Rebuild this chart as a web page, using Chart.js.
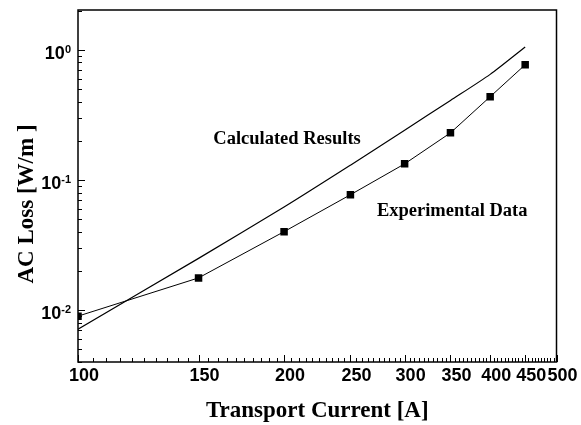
<!DOCTYPE html>
<html><head><meta charset="utf-8">
<script src="https://cdn.jsdelivr.net/npm/chart.js@4"></script>
<style>html,body{margin:0;padding:0;background:#fff}#wrap{width:581px;height:425px}</style>
</head><body><div id="wrap"><canvas id="c" width="581" height="425"></canvas></div>
<script>
// ---- data ----
const currents = [100, 150, 200, 250, 300, 350, 400, 450];
const experimental = [0.0090, 0.0177, 0.0401, 0.077, 0.133, 0.230, 0.436, 0.767];
const calculated = [0.00715, 0.0250, 0.0620, 0.130, 0.241, 0.408, 0.647, 1.05];
const xMajorTicks = [100, 150, 200, 250, 300, 350, 400, 450, 500];
const xMinorStep = 5;
const yMajorTicks = [0.01, 0.1, 1];
const yMajorExponents = ['-2', '-1', '0'];
const yMantissas = [1, 2, 3, 4, 5, 6, 7, 8, 9];
const yDecades = [-3, -2, -1, 0];
const xTitle = 'Transport Current [A]';
const yTitle = 'AC Loss [W/m ]';
const annotationTexts = ['Calculated Results', 'Experimental Data'];
const annotationX = [202, 352];
const annotationY = [0.19, 0.053];

const SANS = '"Liberation Sans", Arial, sans-serif';
const SERIF = '"Liberation Serif", "Times New Roman", serif';
const X_MIN = 100, X_MAX = 500, Y_MIN = 0.004, Y_MAX = 2.02;

const decor = {
  id: 'decor',
  afterDraw(chart) {
    const ctx = chart.ctx, ca = chart.chartArea;
    const xs = chart.scales.x, ys = chart.scales.y;
    ctx.save();
    ctx.strokeStyle = '#000';
    ctx.fillStyle = '#000';
    ctx.lineWidth = 1.5;
    ctx.strokeRect(ca.left, ca.top, ca.right - ca.left, ca.bottom - ca.top);
    ctx.lineWidth = 1;
    ctx.beginPath();
    xs.ticks.forEach(t => {
      const px = Math.round(xs.getPixelForValue(t.value)) + 0.5;
      const len = xMajorTicks.includes(t.value) ? 7 : 4;
      ctx.moveTo(px, ca.bottom);
      ctx.lineTo(px, ca.bottom - len);
    });
    ys.ticks.forEach(t => {
      const py = Math.round(ys.getPixelForValue(t.value)) + 0.5;
      const major = yMajorTicks.some(m => Math.abs(m - t.value) < 1e-9);
      const len = major ? 7 : 4;
      ctx.moveTo(ca.left, py);
      ctx.lineTo(ca.left + len, py);
    });
    ctx.stroke();
    // y tick labels with superscript exponents
    yMajorTicks.forEach((v, i) => {
      const py = ys.getPixelForValue(v);
      const xR = ca.left - 7;
      ctx.textAlign = 'right';
      ctx.textBaseline = 'alphabetic';
      ctx.font = 'bold 11px ' + SANS;
      ctx.fillText(yMajorExponents[i], xR, py + 3);
      const w = ctx.measureText(yMajorExponents[i]).width;
      ctx.font = 'bold 18px ' + SANS;
      ctx.fillText('10', xR - w, py + 9);
    });
    // axis titles
    ctx.font = 'bold 23px ' + SERIF;
    ctx.textAlign = 'center';
    ctx.textBaseline = 'alphabetic';
    ctx.fillText(xTitle, (ca.left + ca.right) / 2, 417);
    ctx.save();
    ctx.translate(33, 204);
    ctx.rotate(-Math.PI / 2);
    ctx.fillText(yTitle, 0, 0);
    ctx.restore();
    // annotations
    ctx.font = 'bold 18.5px ' + SERIF;
    annotationTexts.forEach((txt, i) => {
      ctx.fillText(txt, xs.getPixelForValue(annotationX[i]), ys.getPixelForValue(annotationY[i]));
    });
    ctx.restore();
  }
};

new Chart(document.getElementById('c'), {
  type: 'line',
  data: {
    labels: currents,
    datasets: [
      {
        label: 'Calculated Results',
        data: currents.map((x, i) => ({x, y: calculated[i]})),
        borderColor: '#000', borderWidth: 1.2, pointRadius: 0, tension: 0.25, fill: false
      },
      {
        label: 'Experimental Data',
        data: currents.map((x, i) => ({x, y: experimental[i]})),
        borderColor: '#000', borderWidth: 1, tension: 0, fill: false,
        pointStyle: 'rect', pointRadius: 5.3, pointBackgroundColor: '#000', pointBorderColor: '#000', pointBorderWidth: 0
      }
    ]
  },
  options: {
    responsive: false, animation: false, devicePixelRatio: 1,
    layout: {padding: {top: 10, right: 24.5, left: 0, bottom: 0}},
    plugins: {legend: {display: false}, tooltip: {enabled: false}},
    scales: {
      x: {
        type: 'logarithmic', min: X_MIN, max: X_MAX,
        grid: {display: false, drawTicks: false}, border: {display: false},
        afterBuildTicks: s => {
          const t = [];
          for (let v = X_MIN; v <= X_MAX; v += xMinorStep) t.push({value: v});
          s.ticks = t;
        },
        ticks: {
          autoSkip: false, maxRotation: 0, minRotation: 0, padding: 3, labelOffset: 6, color: '#000',
          font: {family: SANS, weight: 'bold', size: 18},
          callback: v => xMajorTicks.includes(v) ? String(v) : ''
        },
        afterFit: s => { s.height = 63; }
      },
      y: {
        type: 'logarithmic', min: Y_MIN, max: Y_MAX,
        grid: {display: false, drawTicks: false}, border: {display: false},
        afterBuildTicks: s => {
          const t = [];
          yDecades.forEach(e => yMantissas.forEach(m => {
            const v = m * Math.pow(10, e);
            if (v >= Y_MIN - 1e-12 && v <= Y_MAX) t.push({value: v});
          }));
          s.ticks = t;
        },
        ticks: {display: false},
        afterFit: s => { s.width = 78; }
      }
    }
  },
  plugins: [decor]
});
</script>
</body></html>
